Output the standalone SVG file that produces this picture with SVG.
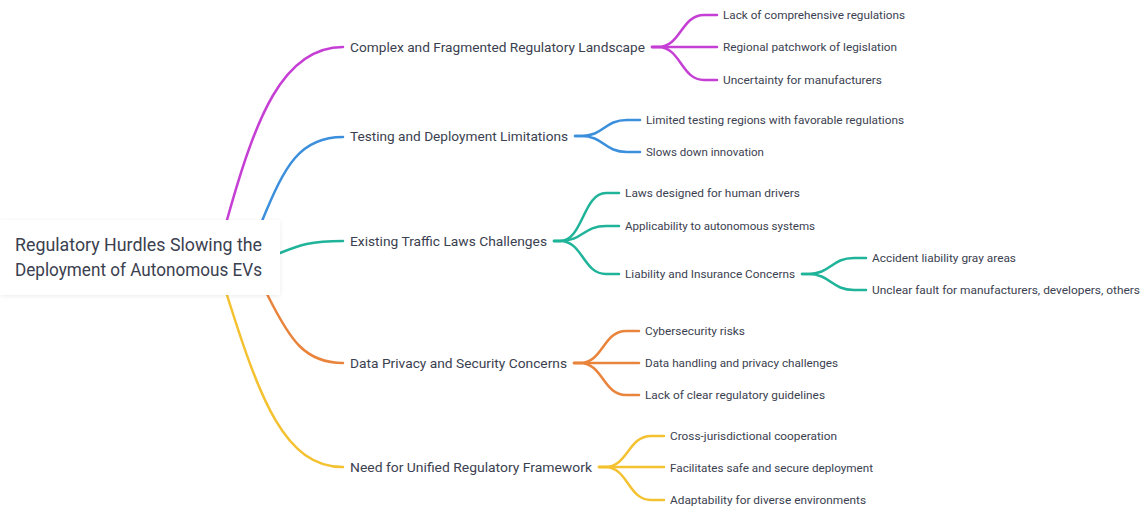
<svg xmlns="http://www.w3.org/2000/svg" width="1143" height="508" viewBox="0 0 1143 508">
  <defs>
    <filter id="soft" x="-10%" y="-20%" width="120%" height="140%">
      <feDropShadow dx="0" dy="1" stdDeviation="2" flood-color="#000" flood-opacity="0.08"/>
    </filter>
    <style>
      text { font-family: Roboto, "Liberation Sans", sans-serif; fill: #3b4150; }
      .root { font-size: 17.5px; font-weight: 400; }
      .l1 { font-size: 13.5px; font-weight: 400; }
      .l2 { font-size: 11px; font-weight: 400; }
      .edge { fill: none; stroke-width: 2.5; stroke-linecap: round; stroke-linejoin: round; }
      .mg { stroke: #c63fd5; }
      .bl { stroke: #3b8fdc; }
      .tl { stroke: #1fb399; }
      .or { stroke: #e9843c; }
      .yl { stroke: #f4c130; }
    </style>
  </defs>
  <rect width="1143" height="508" fill="#ffffff"/>

  <!-- connectors -->
  <g id="connectors">
    <!-- root to first level -->
    <path class="edge mg" d="M224,231 L227,220 C255,120 282,47 343,47"/>
    <path class="edge bl" d="M259,229 L262,221 C285,165 300,137 343,137"/>
    <path class="edge tl" d="M272,256 L280,253 C300,245 310,241 343,241"/>
    <path class="edge or" d="M264,288 L268,296 C290,340 305,363 343,363"/>
    <path class="edge yl" d="M225,288 L227,295 C260,400 285,467 343,467"/>

    <!-- regulatory landscape -->
    <path class="edge mg" d="M652,47 L658,47 C681,47 681,15 704,15 L717,15"/>
    <path class="edge mg" d="M652,47 L717,47"/>
    <path class="edge mg" d="M652,47 L658,47 C681,47 681,80 704,80 L717,80"/>

    <!-- testing and deployment -->
    <path class="edge bl" d="M575,136 L581,136 C604,136 604,120 627,120 L640,120"/>
    <path class="edge bl" d="M575,136 L581,136 C604,136 604,152 627,152 L640,152"/>

    <!-- traffic laws -->
    <path class="edge tl" d="M554,241 L560,241 C583,241 583,193 606,193 L619,193"/>
    <path class="edge tl" d="M554,241 L560,241 C583,241 583,226 606,226 L619,226"/>
    <path class="edge tl" d="M554,241 L560,241 C583,241 583,274 606,274 L619,274"/>
    <path class="edge tl" d="M802,274 L808,274 C831,274 831,258 854,258 L866,258"/>
    <path class="edge tl" d="M802,274 L808,274 C831,274 831,290 854,290 L866,290"/>

    <!-- data privacy -->
    <path class="edge or" d="M574,363 L580,363 C603,363 603,331 626,331 L639,331"/>
    <path class="edge or" d="M574,363 L639,363"/>
    <path class="edge or" d="M574,363 L580,363 C603,363 603,395 626,395 L639,395"/>

    <!-- unified framework -->
    <path class="edge yl" d="M599,467 L605,467 C628,467 628,436 651,436 L664,436"/>
    <path class="edge yl" d="M599,467 L664,467"/>
    <path class="edge yl" d="M599,467 L605,467 C628,467 628,500 651,500 L664,500"/>
  </g>

  <!-- central topic -->
  <g id="root">
    <rect x="0" y="220" width="280" height="75" fill="#ffffff" filter="url(#soft)"/>
    <text class="root" x="15" y="251" textLength="247" lengthAdjust="spacingAndGlyphs">Regulatory Hurdles Slowing the</text>
    <text class="root" x="15" y="276" textLength="247" lengthAdjust="spacingAndGlyphs">Deployment of Autonomous EVs</text>
  </g>

  <!-- first level topics -->
  <g id="landscape">
    <text class="l1" x="350" y="52" textLength="295" lengthAdjust="spacingAndGlyphs">Complex and Fragmented Regulatory Landscape</text>
  </g>
  <g id="testing">
    <text class="l1" x="350" y="141" textLength="218" lengthAdjust="spacingAndGlyphs">Testing and Deployment Limitations</text>
  </g>
  <g id="traffic-laws">
    <text class="l1" x="350" y="246" textLength="197" lengthAdjust="spacingAndGlyphs">Existing Traffic Laws Challenges</text>
  </g>
  <g id="privacy">
    <text class="l1" x="350" y="368" textLength="217" lengthAdjust="spacingAndGlyphs">Data Privacy and Security Concerns</text>
  </g>
  <g id="framework">
    <text class="l1" x="350" y="472" textLength="242" lengthAdjust="spacingAndGlyphs">Need for Unified Regulatory Framework</text>
  </g>

  <!-- second level topics -->
  <g id="landscape-1"><text class="l2" x="723" y="19" textLength="182" lengthAdjust="spacingAndGlyphs">Lack of comprehensive regulations</text></g>
  <g id="landscape-2"><text class="l2" x="723" y="51" textLength="174" lengthAdjust="spacingAndGlyphs">Regional patchwork of legislation</text></g>
  <g id="landscape-3"><text class="l2" x="723" y="84" textLength="159" lengthAdjust="spacingAndGlyphs">Uncertainty for manufacturers</text></g>

  <g id="testing-1"><text class="l2" x="646" y="124" textLength="258" lengthAdjust="spacingAndGlyphs">Limited testing regions with favorable regulations</text></g>
  <g id="testing-2"><text class="l2" x="646" y="156" textLength="118" lengthAdjust="spacingAndGlyphs">Slows down innovation</text></g>

  <g id="traffic-1"><text class="l2" x="625" y="197" textLength="175" lengthAdjust="spacingAndGlyphs">Laws designed for human drivers</text></g>
  <g id="traffic-2"><text class="l2" x="625" y="230" textLength="190" lengthAdjust="spacingAndGlyphs">Applicability to autonomous systems</text></g>
  <g id="traffic-3"><text class="l2" x="625" y="278" textLength="170" lengthAdjust="spacingAndGlyphs">Liability and Insurance Concerns</text></g>
  <g id="liability-1"><text class="l2" x="872" y="262" textLength="144" lengthAdjust="spacingAndGlyphs">Accident liability gray areas</text></g>
  <g id="liability-2"><text class="l2" x="872" y="294" textLength="268" lengthAdjust="spacingAndGlyphs">Unclear fault for manufacturers, developers, others</text></g>

  <g id="privacy-1"><text class="l2" x="645" y="335" textLength="100" lengthAdjust="spacingAndGlyphs">Cybersecurity risks</text></g>
  <g id="privacy-2"><text class="l2" x="645" y="367" textLength="193" lengthAdjust="spacingAndGlyphs">Data handling and privacy challenges</text></g>
  <g id="privacy-3"><text class="l2" x="645" y="399" textLength="180" lengthAdjust="spacingAndGlyphs">Lack of clear regulatory guidelines</text></g>

  <g id="framework-1"><text class="l2" x="670" y="440" textLength="167" lengthAdjust="spacingAndGlyphs">Cross-jurisdictional cooperation</text></g>
  <g id="framework-2"><text class="l2" x="670" y="472" textLength="203" lengthAdjust="spacingAndGlyphs">Facilitates safe and secure deployment</text></g>
  <g id="framework-3"><text class="l2" x="670" y="504" textLength="196" lengthAdjust="spacingAndGlyphs">Adaptability for diverse environments</text></g>
</svg>
